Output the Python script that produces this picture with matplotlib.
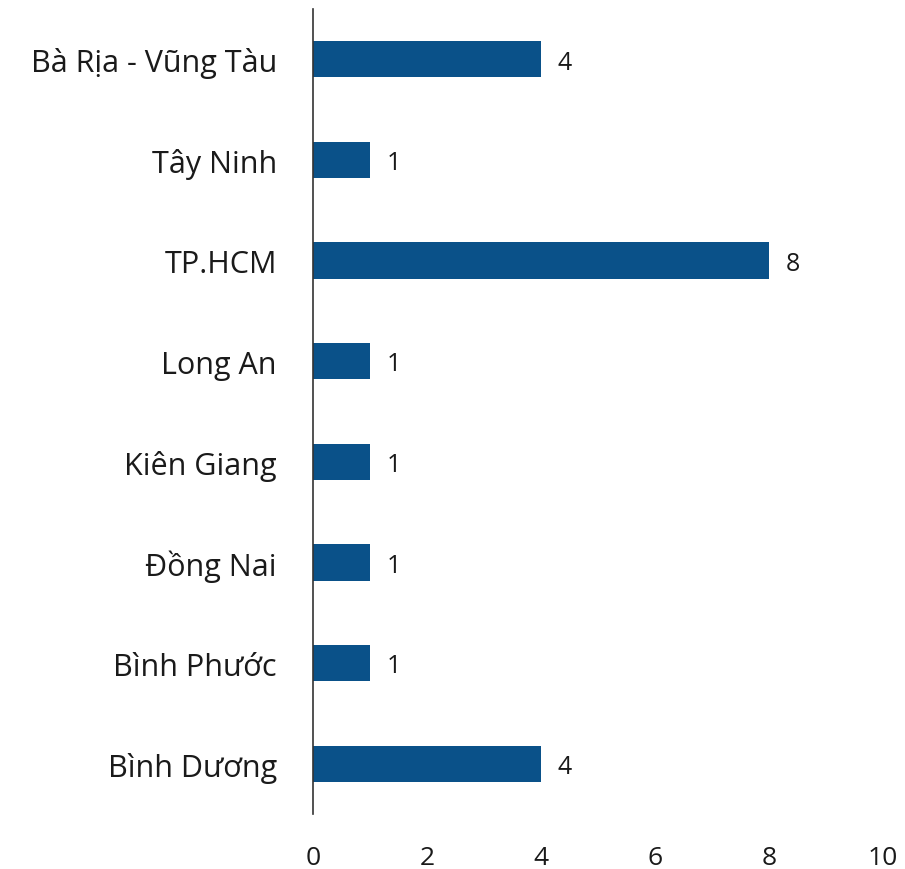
import matplotlib.pyplot as plt
import numpy as np

plt.rcParams["font.family"] = ["Open Sans", "DejaVu Sans"]

provinces = ["Bà Rịa - Vũng Tàu", "Tây Ninh", "TP.HCM", "Long An",
             "Kiên Giang", "Đồng Nai", "Bình Phước", "Bình Dương"]
counts = [4, 1, 8, 1, 1, 1, 1, 4]
xticks = [0, 2, 4, 6, 8, 10]

fig = plt.figure(figsize=(9.05, 8.7), dpi=100)
ax = fig.add_axes([0.3459, 0.0632, 0.6298, 0.9253])

y = np.arange(len(provinces))
bars = ax.barh(y, counts, height=0.36, color="#0a5189")
for yi, c in zip(y, counts):
    ax.annotate(str(c), (c, yi), xytext=(12, -2), textcoords="offset points",
                ha="left", va="center", fontsize=18, color="#1a1a1a")

ax.set_yticks(y)
ax.set_yticklabels(provinces, fontsize=22, color="#1a1a1a")
ax.set_ylim(len(provinces) - 0.5, -0.5)
ax.set_xlim(0, 10)
ax.set_xticks(xticks)
ax.set_xticklabels([str(t) for t in xticks], fontsize=19, color="#1a1a1a")
ax.tick_params(axis="both", length=0)
ax.tick_params(axis="y", pad=26)
ax.tick_params(axis="x", pad=22)

for spine in ["top", "right", "bottom"]:
    ax.spines[spine].set_visible(False)
ax.spines["left"].set_color("#333333")
ax.spines["left"].set_linewidth(1.2)

fig.savefig("out.png", dpi=100)
